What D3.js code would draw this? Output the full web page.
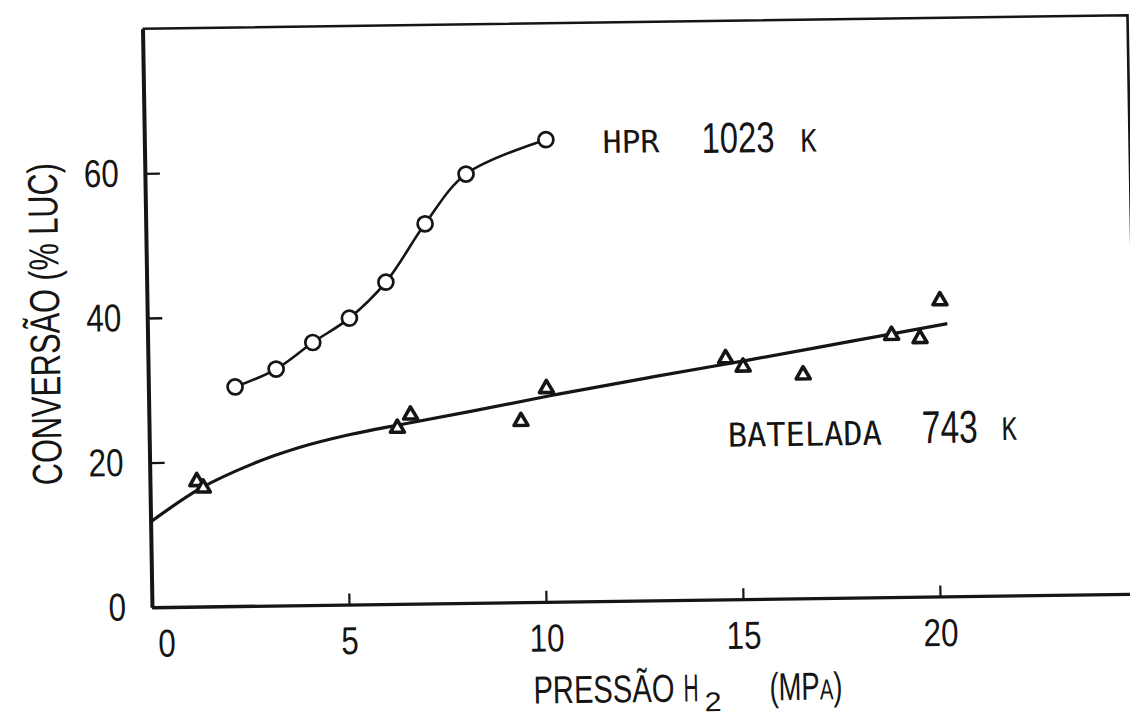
<!DOCTYPE html>
<html>
<head>
<meta charset="utf-8">
<script src="https://cdn.jsdelivr.net/npm/d3@7"></script>
<style>
  html, body { margin: 0; padding: 0; background: #fff; }
  svg { display: block; }
</style>
</head>
<body>
<svg id="chart" width="1130" height="720"></svg>
<script>
// HPR run at 1023 K
const hprPressure   = [2.2, 3.25, 4.19, 5.13, 6.07, 7.09, 8.15, 10.19];
const hprConversion = [30.3, 32.7, 36.3, 39.6, 44.5, 52.5, 59.3, 63.9];

// Batch (batelada) runs at 743 K
const batPressure   = [1.19, 1.35, 6.30, 6.64, 9.44, 10.1, 14.66, 15.10, 16.62, 18.88, 19.6, 20.12];
const batConversion = [17.3, 16.4, 24.3, 26.1, 25.0, 29.5, 33.3, 32.1, 30.9, 36.2, 35.7, 40.9];

// Hand-fitted trend line through the batch runs
const batFitPressure   = [0, 1.3, 2.6, 3.8, 5.1, 6.4, 8.2, 10.4, 12.8, 15.3, 17.8, 20.3];
const batFitConversion = [11.8, 16.4, 19.6, 21.8, 23.5, 24.8, 26.5, 28.7, 30.9, 33.1, 35.4, 37.7];

const xTicks = [0, 5, 10, 15, 20];
const yTicks = [0, 20, 40, 60];

const INK = "#151515";
const NUM_FONT = "'Liberation Sans', Arial, sans-serif";
const TYPE_FONT = "'DejaVu Sans Mono', 'Liberation Mono', monospace";

const W = 985, H = 578.5;
const svg = d3.select("#chart");
svg.append("rect").attr("width", 1130).attr("height", 720).attr("fill", "#fff");

// the sheet sits slightly skewed on the page
const plot = svg.append("g")
  .attr("transform", "matrix(1,-0.0137,0.0164,1,142.5,28.75)");

const x = d3.scaleLinear().domain([0, 25]).range([0, W]);
const y = d3.scaleLinear().domain([0, 80]).range([H, 0]);

// frame: top and right edges
plot.append("path")
  .attr("d", `M0,0H${x(25)}V${y(0)}`)
  .attr("fill", "none").attr("stroke", INK).attr("stroke-width", 2.6);

// x axis (ticks point inward)
const gx = plot.append("g").attr("transform", `translate(0,${H})`)
  .call(d3.axisBottom(x).tickValues(xTicks).tickSizeInner(-11).tickSizeOuter(0).tickPadding(22));
gx.select(".domain").attr("stroke", INK).attr("stroke-width", 3.4);
gx.selectAll(".tick line").attr("stroke", INK).attr("stroke-width", 2.2);
gx.selectAll(".tick text")
  .attr("fill", INK).attr("font-family", NUM_FONT).attr("font-size", 39)
  .attr("textLength", d => String(d).length * 17.5).attr("lengthAdjust", "spacingAndGlyphs")
  .attr("dx", d => d === 0 ? 14 : 0);

// y axis (ticks point inward)
const gy = plot.append("g")
  .call(d3.axisLeft(y).tickValues(yTicks).tickSizeInner(-15).tickSizeOuter(0).tickPadding(26));
gy.select(".domain").attr("stroke", INK).attr("stroke-width", 4);
gy.selectAll(".tick line").attr("stroke", INK).attr("stroke-width", 2.4);
gy.selectAll(".tick text")
  .attr("fill", INK).attr("font-family", NUM_FONT).attr("font-size", 39)
  .attr("textLength", d => String(d).length * 17.5).attr("lengthAdjust", "spacingAndGlyphs");

// text placed at a baseline point and squeezed to a given width
function label(parent, x0, y0, width, opts) {
  const t = parent.append("text")
    .attr("fill", INK)
    .attr("font-family", opts.font)
    .attr("font-size", opts.size)
    .attr("text-anchor", opts.anchor || "start");
  opts.build(t);
  const w = t.node().getComputedTextLength();
  const s = width / w;
  t.attr("transform", `translate(${x0},${y0}) rotate(${opts.rotate || 0}) scale(${s},1)`);
  return t;
}

// fitted curves
const hprLine = d3.line().x((d, i) => x(hprPressure[i])).y(d => y(d)).curve(d3.curveCatmullRom.alpha(0.5));
plot.append("path").datum(hprConversion).attr("d", hprLine)
  .attr("fill", "none").attr("stroke", INK).attr("stroke-width", 2.6);

const batLine = d3.line().x((d, i) => x(batFitPressure[i])).y(d => y(d)).curve(d3.curveCatmullRom.alpha(0.5));
plot.append("path").datum(batFitConversion).attr("d", batLine)
  .attr("fill", "none").attr("stroke", INK).attr("stroke-width", 3.2);

// HPR markers: open circles
plot.selectAll(".hpr").data(hprConversion).join("circle")
  .attr("class", "hpr")
  .attr("cx", (d, i) => x(hprPressure[i])).attr("cy", d => y(d))
  .attr("r", 7.5).attr("fill", "#fff").attr("stroke", INK).attr("stroke-width", 2.7);

// batch markers: heavy triangles
const tri = d3.symbol().type(d3.symbolTriangle).size(85);
plot.selectAll(".bat").data(batConversion).join("path")
  .attr("class", "bat")
  .attr("transform", (d, i) => `translate(${x(batPressure[i])},${y(d)})`)
  .attr("d", tri)
  .attr("fill", "#fff").attr("stroke", INK).attr("stroke-width", 3.6).attr("stroke-linejoin", "round");

// series annotations
label(plot, 458, 130.5, 57, { font: TYPE_FONT, size: 31, build: t => t.text("HPR") });
label(plot, 557, 132, 73, { font: NUM_FONT, size: 43, build: t => t.text("1023") });
label(plot, 656, 132, 16, { font: TYPE_FONT, size: 31, build: t => t.text("K") });

label(plot, 578.5, 426, 154, { font: TYPE_FONT, size: 33, build: t => t.text("BATELADA") });
label(plot, 772.5, 425, 56, { font: NUM_FONT, size: 46, build: t => t.text("743") });
label(plot, 852.5, 423, 15, { font: TYPE_FONT, size: 31, build: t => t.text("K") });

// axis titles
label(plot, 380, 680, 141, { font: NUM_FONT, size: 39, build: t => t.text("PRESSÃO") });
label(plot, 530, 680, 15, { font: NUM_FONT, size: 39, build: t => t.text("H") });
label(plot, 551, 690, 17, { font: NUM_FONT, size: 27, build: t => t.text("2") });
label(plot, 616, 680, 73, { font: NUM_FONT, size: 39, build: t => {
  t.append("tspan").text("(MP");
  t.append("tspan").attr("font-size", 29).text("A");
  t.append("tspan").text(")");
}});

label(plot, -88, 294, 322, { font: NUM_FONT, size: 42, anchor: "middle", rotate: -90,
  build: t => t.text("CONVERSÃO (% LUC)") });
</script>
</body>
</html>
